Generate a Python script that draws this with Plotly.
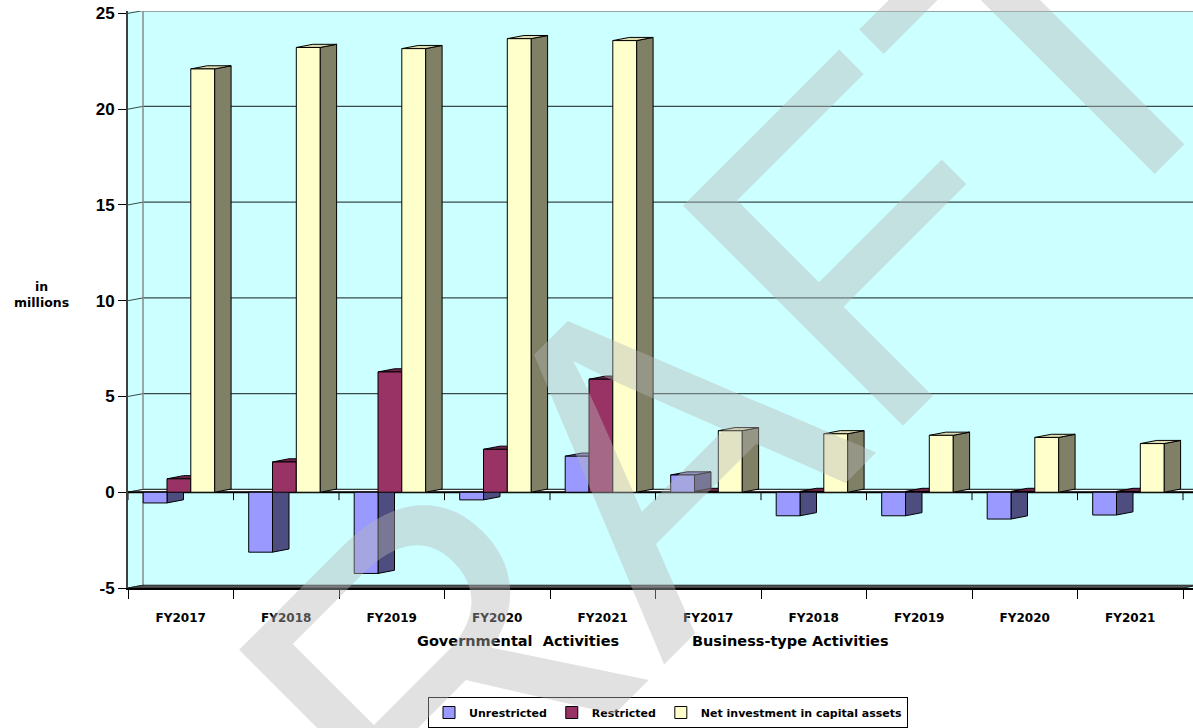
import plotly.graph_objects as go

# ---------------- data ----------------
categories = ["FY2017", "FY2018", "FY2019", "FY2020", "FY2021",
              "FY2017", "FY2018", "FY2019", "FY2020", "FY2021"]
group_labels = ["Governmental  Activities", "Business-type Activities"]
series_names = ["Unrestricted", "Restricted", "Net investment in capital assets"]
unrestricted = [-0.56, -3.13, -4.24, -0.40, 1.88, 0.90, -1.23, -1.23, -1.40, -1.19]
restricted = [0.70, 1.58, 6.28, 2.24, 5.90, 0.04, 0.04, 0.04, 0.04, 0.04]
net_investment = [22.10, 23.22, 23.16, 23.68, 23.58, 3.21, 3.05, 2.97, 2.86, 2.54]
y_ticks = [-5, 0, 5, 10, 15, 20, 25]
y_tick_labels = ["-5", "0", "5", "10", "15", "20", "25"]
y_title = "in<br>millions"
watermark = "DRAFT"

# ---------------- style ----------------
front_colors = ["#9999FF", "#993366", "#FFFFCC"]
side_colors = ["#4D4D80", "#4D1A33", "#808066"]
top_colors = ["#7676CC", "#70264C", "#DCDCB2"]
wall_color = "#CCFFFF"

W, H = 1193, 728
ML, MR, MT, MB = 128, 0, 11, 135
cat_px = 105.5
px_per_unit = 19.32
x_lo = -0.5
x_hi = x_lo + (W - ML - MR) / cat_px
y_lo = -5
y_hi = y_lo + (H - MT - MB) / px_per_unit
PW, PH = W - ML - MR, H - MT - MB

gap0 = 15.2 / cat_px        # offset of first bar from category start
bw = 23.8 / cat_px          # bar front width
depth_x = 16.5 / cat_px     # bar depth (x)
depth_y = 3.2 / px_per_unit # bar depth (y)
wall_dx = 15.0 / cat_px
wall_dy = 2.8 / px_per_unit

n = len(categories)
xs = list(range(n))
series = [unrestricted, restricted, net_investment]

fig = go.Figure()
shapes = []


def poly(points, fill, line_color="black", width=1):
    path = "M" + " L".join(f"{px},{py}" for px, py in points) + " Z"
    return dict(type="path", path=path, xref="x", yref="y", fillcolor=fill,
                line=dict(color=line_color, width=width), layer="below")


def seg(x0, y0, x1, y1, color, width):
    return dict(type="line", x0=x0, y0=y0, x1=x1, y1=y1, xref="x", yref="y",
                line=dict(color=color, width=width), layer="below")


# back wall gridlines + connectors to the axis
for v in y_ticks:
    if v != y_lo:
        shapes.append(seg(x_lo + wall_dx, v + wall_dy, x_hi, v + wall_dy, "#3A4A4A", 1.3))
    shapes.append(seg(x_lo, v, x_lo + wall_dx, v + wall_dy, "#3A4A4A", 1))
# back wall left edge and top edge
shapes.append(seg(x_lo + wall_dx, y_lo + wall_dy, x_lo + wall_dx, y_ticks[-1] + wall_dy, "#8A8A8A", 1.5))
shapes.append(seg(x_lo + wall_dx, y_ticks[-1] + wall_dy, x_hi, y_ticks[-1] + wall_dy, "#7A7A7A", 2))

# bottom floor at -5
shapes.append(poly([(x_lo, y_lo), (x_lo + n, y_lo), (x_lo + n + wall_dx, y_lo + wall_dy),
                    (x_lo + wall_dx, y_lo + wall_dy)], "#555555", "#222222", 1))
# floor at zero
shapes.append(poly([(x_lo, 0), (x_hi, 0), (x_hi + wall_dx, wall_dy),
                    (x_lo + wall_dx, wall_dy)], "#F4FFFF", "#333333", 1))
shapes.append(seg(x_lo, 0, x_hi, 0, "black", 2))
# category ticks under the zero line
for b in range(n + 1):
    shapes.append(seg(x_lo + b, 0, x_lo + b, -8 / px_per_unit, "black", 1))

# 3D side and top faces of every bar (computed from the data)
for i in xs:
    for k, vals in enumerate(series):
        v = vals[i]
        x0 = i - 0.5 + gap0 + k * bw
        x1 = x0 + bw
        shapes.append(poly([(x1, 0), (x1, v), (x1 + depth_x, v + depth_y),
                            (x1 + depth_x, depth_y)], side_colors[k]))
        if v > 0:
            shapes.append(poly([(x0, v), (x1, v), (x1 + depth_x, v + depth_y),
                                (x0 + depth_x, v + depth_y)], top_colors[k]))

# front faces as real bars
for k, vals in enumerate(series):
    fig.add_trace(go.Bar(
        x=xs, y=vals, name=series_names[k],
        width=bw, offset=-0.5 + gap0 + k * bw,
        marker=dict(color=front_colors[k], line=dict(color="black", width=1)),
    ))

annotations = [
    dict(text="<b>" + y_title.replace("<br>", "</b><br><b>") + "</b>",
         xref="paper", yref="paper",
         x=(41 - ML) / PW, y=(H - MB - 297) / PH,
         showarrow=False, font=dict(family="DejaVu Sans", size=12.5, color="black"),
         xanchor="center", yanchor="middle"),
    dict(text="<b>" + group_labels[0] + "</b>", xref="x", yref="paper",
         x=3.2, y=-53 / PH, showarrow=False,
         font=dict(family="DejaVu Sans", size=14.5, color="black"),
         xanchor="center", yanchor="middle"),
    dict(text="<b>" + group_labels[1] + "</b>", xref="x", yref="paper",
         x=5.78, y=-53 / PH, showarrow=False,
         font=dict(family="DejaVu Sans", size=14.5, color="black"),
         xanchor="center", yanchor="middle"),
    dict(text=watermark, xref="paper", yref="paper",
         x=(624 - ML) / PW, y=(H - MB - 488) / PH,
         showarrow=False, textangle=-45,
         font=dict(family="Liberation Sans", size=452, color="rgba(182,182,182,0.41)"),
         xanchor="center", yanchor="middle"),
]

fig.update_layout(
    width=W, height=H,
    margin=dict(l=ML, r=MR, t=MT, b=MB),
    paper_bgcolor="white", plot_bgcolor=wall_color,
    barmode="overlay",
    showlegend=True,
    legend=dict(orientation="h", x=(668 - ML) / PW, xanchor="center",
                y=-(703 - (H - MB)) / PH, yanchor="top",
                bgcolor="white", bordercolor="black", borderwidth=1,
                font=dict(family="DejaVu Sans", size=11, color="black", weight="bold"),
                itemwidth=30, tracegroupgap=0),
    xaxis=dict(range=[x_lo, x_hi], tickmode="array", tickvals=xs, ticktext=categories,
               ticks="", showgrid=False, zeroline=False,
               showline=True, linecolor="black", linewidth=2,
               ticklabelstandoff=18,
               tickfont=dict(family="DejaVu Sans", size=12, color="black", weight="bold"),
               minor=dict(tickmode="array", tickvals=[x_lo + b for b in range(n + 1)],
                          ticks="outside", ticklen=9, tickcolor="black", tickwidth=1,
                          showgrid=False)),
    yaxis=dict(range=[y_lo, y_hi], tickmode="array", tickvals=y_ticks, ticktext=y_tick_labels,
               ticks="outside", ticklen=8, tickcolor="black", tickwidth=1,
               showgrid=False, zeroline=False,
               showline=True, linecolor="#404040", linewidth=2,
               tickfont=dict(family="Liberation Sans", size=17, color="black", weight="bold")),
    shapes=shapes,
    annotations=annotations,
)

fig.write_html("out.html")
